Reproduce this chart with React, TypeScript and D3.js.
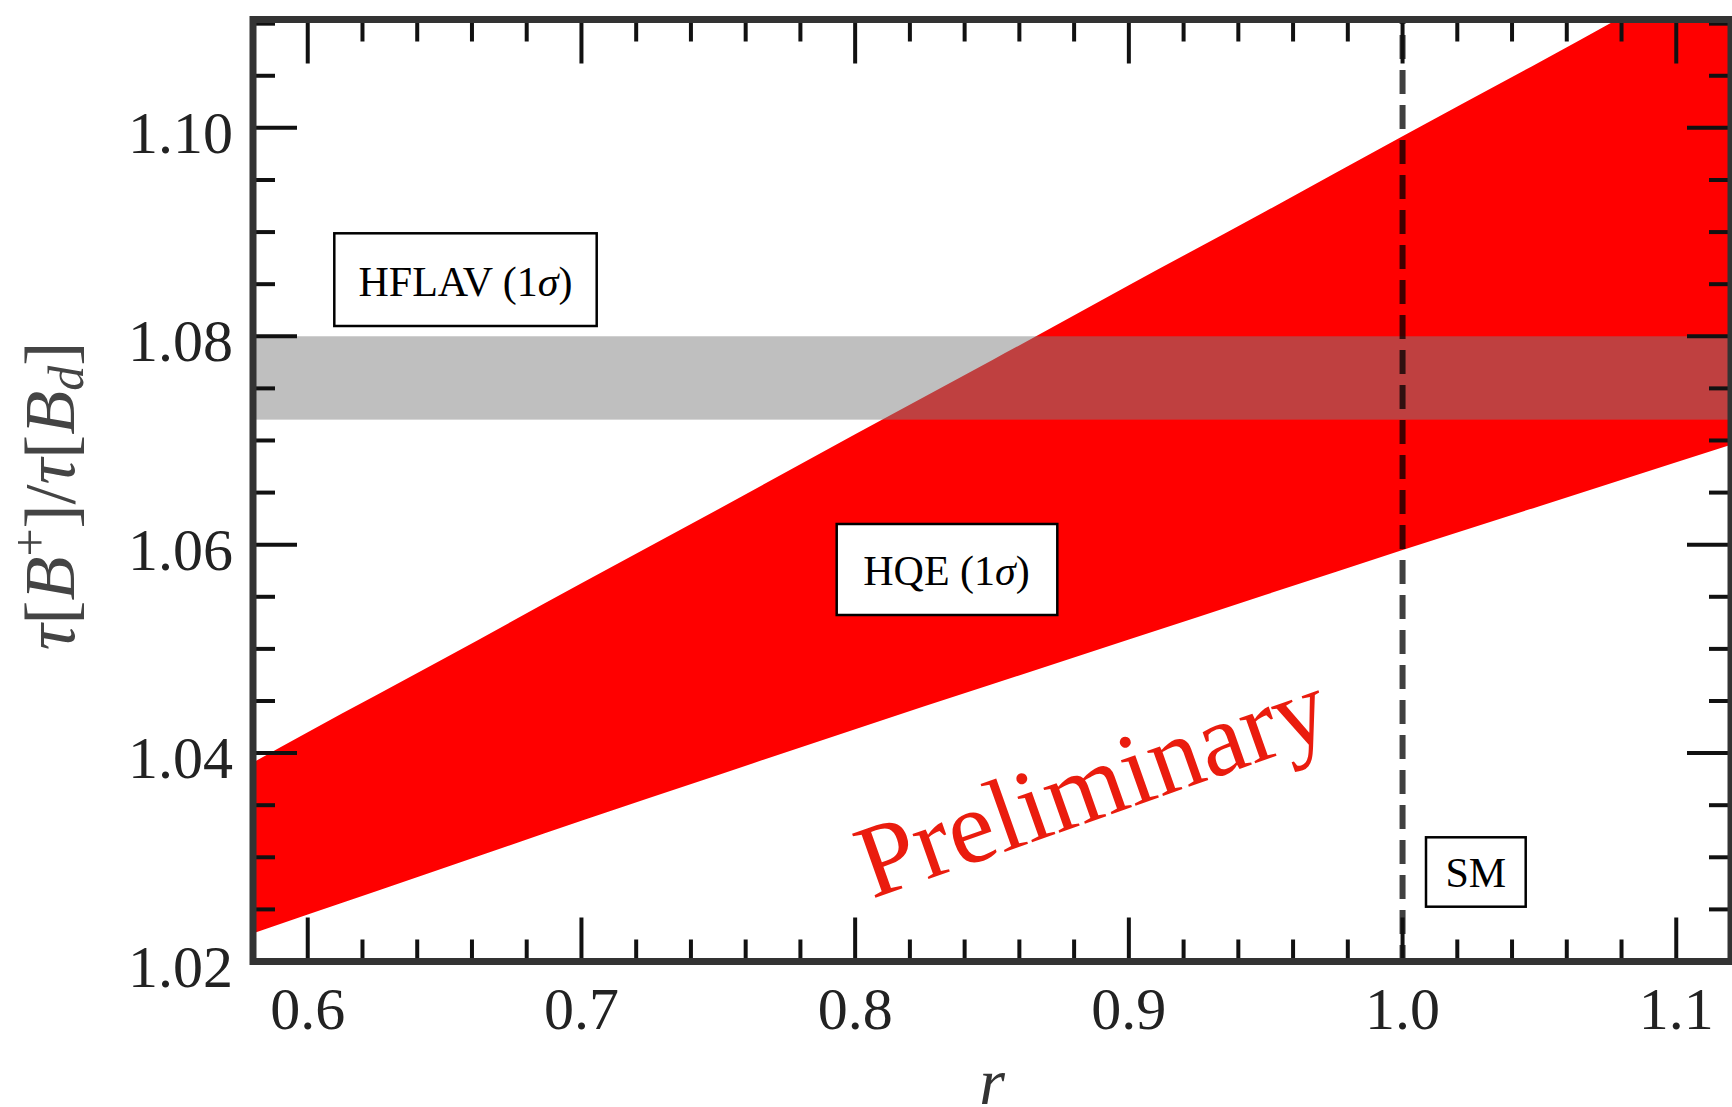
import React from "react";
import * as d3 from "d3";

// ---- data ----
const rGrid = [0.58, 0.6, 0.65, 0.7, 0.75, 0.8, 0.85, 0.9, 0.95, 1.0, 1.05, 1.1, 1.12];
const hqeUpper = [1.0391, 1.042, 1.0491, 1.0563, 1.0634, 1.0706, 1.0777, 1.0849, 1.092, 1.0992, 1.1063, 1.1135, 1.1163];
const hqeLower = [1.0227, 1.0245, 1.029, 1.0335, 1.0379, 1.0423, 1.0466, 1.0509, 1.0552, 1.0595, 1.0637, 1.0679, 1.0696];
const hflavBand = [1.072, 1.08];
const smValue = 1.0;
const xDomain = [0.58, 1.12];
const yDomain = [1.02, 1.1104];
const xMajorTicks = [0.6, 0.7, 0.8, 0.9, 1.0, 1.1];
const xTickLabels = ["0.6", "0.7", "0.8", "0.9", "1.0", "1.1"];
const yMajorTicks = [1.02, 1.04, 1.06, 1.08, 1.1];
const yTickLabels = ["1.02", "1.04", "1.06", "1.08", "1.10"];

const W = 1732;
const H = 1107;
const plot = { left: 253, right: 1731, top: 19.5, bottom: 961.5 };

export default function App() {
  const x = d3.scaleLinear().domain(xDomain).range([plot.left, plot.right]);
  const y = d3.scaleLinear().domain(yDomain).range([plot.bottom, plot.top]);

  const band = rGrid.map((r, i) => ({ r, lo: hqeLower[i], hi: hqeUpper[i] }));
  const area = d3
    .area<{ r: number; lo: number; hi: number }>()
    .x((d) => x(d.r))
    .y0((d) => y(d.lo))
    .y1((d) => y(d.hi))
    .curve(d3.curveMonotoneX);

  const xMinor = d3.range(0, 28).map((i) => +(0.58 + i * 0.02).toFixed(3)).filter((v) => v <= 1.12 + 1e-9);
  const yMinor = d3.range(0, 19).map((i) => +(1.02 + i * 0.005).toFixed(4)).filter((v) => v <= 1.1104);
  const isMajorX = (v: number) => xMajorTicks.some((m) => Math.abs(m - v) < 1e-6);
  const isMajorY = (v: number) => yMajorTicks.some((m) => Math.abs(m - v) < 1e-6);

  const majorLen = 44;
  const minorLen = 22;
  const tickColor = "#111";
  const serif = "'Liberation Serif', 'Times New Roman', 'DejaVu Serif', serif";

  return (
    <svg
      width={W}
      height={H}
      viewBox={`0 0 ${W} ${H}`}
      style={{ position: "absolute", left: 0, top: 0, display: "block", background: "#fff" }}
    >
      <defs>
        <clipPath id="plotClip">
          <rect x={plot.left} y={plot.top} width={plot.right - plot.left} height={plot.bottom - plot.top} />
        </clipPath>
      </defs>
      <rect x={0} y={0} width={W} height={H} fill="#fff" />

      <g clipPath="url(#plotClip)">
        <path d={area(band) || ""} fill="#ff0000" />
        <rect
          x={plot.left}
          y={y(hflavBand[1])}
          width={plot.right - plot.left}
          height={y(hflavBand[0]) - y(hflavBand[1])}
          fill="#7f7f7f"
          fillOpacity={0.5}
        />
        <line
          x1={x(smValue)}
          x2={x(smValue)}
          y1={plot.top}
          y2={plot.bottom}
          stroke="#000"
          strokeOpacity={0.75}
          strokeWidth={6}
          strokeDasharray="24 11"
          strokeDashoffset={19.4}
        />
      </g>

      {/* annotation boxes */}
      <g fontFamily={serif} fontSize={42} fill="#000">
        <rect x={334.3} y={233.3} width={262.4} height={92.7} fill="#fff" stroke="#000" strokeWidth={2.5} />
        <text x={465.5} y={296} textAnchor="middle">
          HFLAV (1<tspan fontStyle="italic">σ</tspan>)
        </text>
        <rect x={836.7} y={524} width={220.6} height={91} fill="#fff" stroke="#000" strokeWidth={2.5} />
        <text x={946.5} y={585} textAnchor="middle">
          HQE (1<tspan fontStyle="italic">σ</tspan>)
        </text>
        <rect x={1426} y={837.3} width={99.7} height={69.4} fill="#fff" stroke="#000" strokeWidth={2.5} />
        <text x={1475.8} y={887} textAnchor="middle">
          SM
        </text>
      </g>

      {/* Preliminary watermark */}
      <text
        transform="translate(872,899) rotate(-19.5)"
        fontFamily={serif}
        fontSize={104}
        fill="#ea1c0e"
      >
        Preliminary
      </text>

      {/* ticks */}
      <g stroke={tickColor} strokeWidth={4}>
        {xMinor.map((v) => {
          const len = isMajorX(v) ? majorLen : minorLen;
          const px = x(v);
          return (
            <g key={"xt" + v}>
              <line x1={px} x2={px} y1={plot.bottom} y2={plot.bottom - len} />
              <line x1={px} x2={px} y1={plot.top} y2={plot.top + len} />
            </g>
          );
        })}
        {yMinor.map((v) => {
          const len = isMajorY(v) ? majorLen : minorLen;
          const py = y(v);
          return (
            <g key={"yt" + v}>
              <line x1={plot.left} x2={plot.left + len} y1={py} y2={py} />
              <line x1={plot.right} x2={plot.right - len} y1={py} y2={py} />
            </g>
          );
        })}
      </g>

      {/* frame */}
      <rect
        x={plot.left}
        y={plot.top}
        width={plot.right - plot.left}
        height={plot.bottom - plot.top}
        fill="none"
        stroke="#333"
        strokeWidth={7}
      />

      {/* tick labels */}
      <g fontFamily={serif} fontSize={60} fill="#222">
        {xMajorTicks.map((v, i) => (
          <text key={"xl" + v} x={x(v)} y={1029} textAnchor="middle">
            {xTickLabels[i]}
          </text>
        ))}
        {yMajorTicks.map((v, i) => (
          <text key={"yl" + v} x={233} y={y(v) + 25} textAnchor="end">
            {yTickLabels[i]}
          </text>
        ))}
      </g>

      {/* axis titles */}
      <text
        x={(plot.left + plot.right) / 2}
        y={1104}
        textAnchor="middle"
        fontFamily={serif}
        fontSize={66}
        fontStyle="italic"
        fill="#333"
      >
        r
      </text>
      <text
        transform="translate(74,496) rotate(-90)"
        textAnchor="middle"
        fontFamily={serif}
        fontSize={72}
        fill="#444"
      >
        <tspan fontStyle="italic">τ</tspan>[<tspan fontStyle="italic">B</tspan>
        <tspan fontSize={50} dy={-27}>+</tspan>
        <tspan dy={27}>]/</tspan>
        <tspan fontStyle="italic">τ</tspan>[<tspan fontStyle="italic">B</tspan>
        <tspan fontSize={50} fontStyle="italic" dy={9}>d</tspan>
        <tspan dy={-9}>]</tspan>
      </text>
    </svg>
  );
}
